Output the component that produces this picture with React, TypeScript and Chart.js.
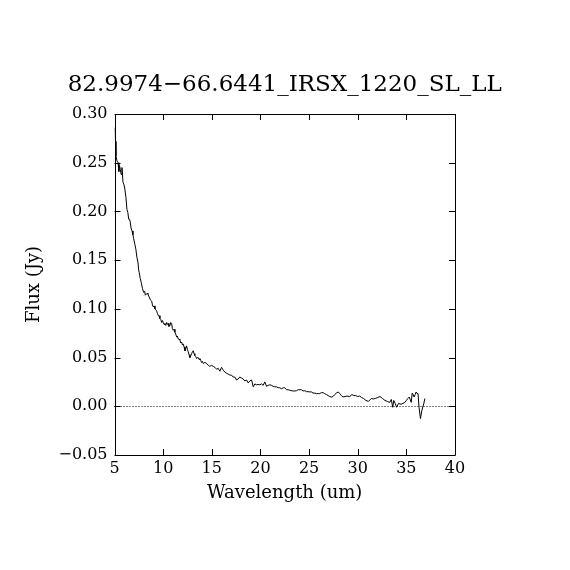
import React, { useEffect, useRef } from "react";
import { Chart, registerables } from "chart.js";

Chart.register(...registerables);

const TITLE = "82.9974\u221266.6441_IRSX_1220_SL_LL";
const X_LABEL = "Wavelength (um)";
const Y_LABEL = "Flux (Jy)";

const wavelength: number[] = [
  5.05, 5.1, 5.15, 5.25, 5.36, 5.45, 5.52, 5.6, 5.68, 5.77, 5.87, 5.96, 6.05, 6.18, 6.28, 6.37, 6.46, 6.55, 6.62, 6.7,
  6.8, 6.9, 6.97, 7.1, 7.2, 7.3, 7.41, 7.48, 7.55, 7.65, 7.75, 7.87, 8.0, 8.1, 8.17, 8.27, 8.35, 8.44, 8.57, 8.7,
  8.82, 8.9, 8.98, 9.08, 9.16, 9.25, 9.33, 9.42, 9.5, 9.58, 9.67, 9.76, 9.85, 9.93, 10.01, 10.1, 10.18, 10.27, 10.36, 10.44,
  10.52, 10.6, 10.7, 10.78, 10.87, 10.95, 11.04, 11.12, 11.21, 11.3, 11.39, 11.47, 11.55, 11.63, 11.72, 11.81, 11.9, 11.98, 12.06, 12.15,
  12.24, 12.32, 12.41, 12.5, 12.58, 12.66, 12.75, 12.84, 12.93, 13.01, 13.09, 13.18, 13.26, 13.35, 13.44, 13.52, 13.6, 13.7, 13.78, 13.87,
  13.95, 14.04, 14.12, 14.3, 14.47, 14.64, 14.8, 14.98, 15.15, 15.32, 15.5, 15.66, 15.83, 16.0, 16.18, 16.35, 16.5, 16.68, 16.86, 17.03,
  17.2, 17.37, 17.55, 17.71, 17.88, 18.06, 18.22, 18.4, 18.57, 18.74, 18.91, 19.09, 19.26, 19.43, 19.6, 19.76, 19.93, 20.11, 20.28, 20.45,
  20.63, 20.79, 20.96, 21.14, 21.3, 21.48, 21.65, 21.82, 21.99, 22.17, 22.34, 22.5, 22.68, 22.85, 23.02, 23.2, 23.36, 23.53, 23.71, 23.88,
  24.05, 24.22, 24.38, 24.56, 24.73, 24.9, 25.1, 25.25, 25.41, 25.6, 25.76, 25.93, 26.1, 26.27, 26.44, 26.6, 26.79, 26.96, 27.13, 27.3,
  27.46, 27.63, 27.81, 28.0, 28.15, 28.32, 28.49, 28.7, 28.9, 29.18, 29.4, 29.6, 29.8, 30.0, 30.2, 30.4, 30.6, 30.85, 31.1, 31.4,
  31.6, 31.8, 32.05, 32.3, 32.55, 32.8, 33.05, 33.3, 33.45, 33.6, 33.7, 33.85, 34.0, 34.2, 34.45, 34.65, 34.85, 35.0, 35.15, 35.3,
  35.5, 35.6, 35.7, 35.8, 35.9, 36.0, 36.1, 36.2, 36.3, 36.45, 36.6, 36.8, 36.9,
];

const flux: number[] = [
  0.286, 0.272, 0.257, 0.252, 0.25, 0.241, 0.247, 0.243, 0.238, 0.245, 0.23, 0.228, 0.224, 0.214, 0.202, 0.199, 0.192, 0.192, 0.189, 0.183,
  0.18, 0.176, 0.172, 0.166, 0.161, 0.153, 0.148, 0.14, 0.137, 0.131, 0.127, 0.121, 0.117, 0.118, 0.114, 0.115, 0.116, 0.115, 0.112, 0.109,
  0.108, 0.104, 0.102, 0.103, 0.1, 0.099, 0.098, 0.095, 0.093, 0.093, 0.09, 0.089, 0.086, 0.088, 0.086, 0.084, 0.085, 0.083, 0.086, 0.084,
  0.085, 0.082, 0.083, 0.086, 0.085, 0.08, 0.078, 0.079, 0.076, 0.074, 0.071, 0.072, 0.069, 0.069, 0.068, 0.065, 0.066, 0.063, 0.064, 0.061,
  0.057, 0.059, 0.062, 0.058, 0.056, 0.053, 0.05, 0.052, 0.054, 0.056, 0.057, 0.054, 0.052, 0.051, 0.049, 0.05, 0.05, 0.048, 0.049, 0.047,
  0.045, 0.046, 0.044, 0.045, 0.044, 0.042, 0.041, 0.042, 0.041, 0.04, 0.038, 0.039, 0.036, 0.04, 0.037, 0.035, 0.034, 0.033, 0.032, 0.032,
  0.03, 0.03, 0.027, 0.028, 0.03, 0.029, 0.028, 0.026, 0.027, 0.024, 0.026, 0.027, 0.02, 0.023, 0.022, 0.0225, 0.022, 0.023, 0.0215, 0.025,
  0.0205, 0.0215, 0.022, 0.0215, 0.0205, 0.02, 0.02, 0.019, 0.019, 0.018, 0.019, 0.019, 0.017, 0.017, 0.0164, 0.016, 0.0157, 0.0157, 0.016, 0.017,
  0.017, 0.017, 0.0157, 0.016, 0.015, 0.015, 0.0147, 0.0147, 0.0136, 0.0135, 0.013, 0.013, 0.013, 0.014, 0.014, 0.013, 0.012, 0.011, 0.01, 0.0095,
  0.01, 0.012, 0.0136, 0.0147, 0.013, 0.011, 0.0095, 0.01, 0.0105, 0.01, 0.012, 0.011, 0.011, 0.01, 0.0105, 0.009, 0.008, 0.006, 0.005, 0.008,
  0.0075, 0.008, 0.009, 0.01, 0.008, 0.006, 0.005, 0.004, 0.007, -0.001, 0.006, 0.003, -0.001, 0.003, 0.002, 0.003, 0.004, 0.006, 0.008, 0.0095,
  0.004, 0.0136, 0.012, 0.0095, 0.012, 0.0147, 0.013, 0.013, -0.001, -0.0126, -0.004, 0.003, 0.008,
];

const X_MIN = 5;
const X_MAX = 40;
const X_STEP = 5;
const Y_MIN = -0.05;
const Y_MAX = 0.3;
const Y_STEP = 0.05;

const SERIF = "'DejaVu Serif', 'Liberation Serif', serif";

const formatY = (v: number) => {
  const r = Math.round(v * 100) / 100;
  const s = Math.abs(r).toFixed(2);
  return r < 0 ? "\u2212" + s : s;
};

const framePlugin = {
  id: "frameTicks",
  afterDraw(chart: any) {
    const { ctx, chartArea, scales } = chart;
    const { left, right, top, bottom } = chartArea;
    const xs = scales.x;
    const ys = scales.y;
    ctx.save();
    const y0 = Math.round(ys.getPixelForValue(0)) + 0.5;
    ctx.strokeStyle = "#000";
    ctx.lineWidth = 1;
    ctx.setLineDash([1, 2]);
    ctx.beginPath();
    ctx.moveTo(left, y0);
    ctx.lineTo(right, y0);
    ctx.stroke();
    ctx.setLineDash([]);
    ctx.beginPath();
    ctx.rect(Math.round(left) + 0.5, Math.round(top) + 0.5, Math.round(right) - Math.round(left), Math.round(bottom) - Math.round(top));
    ctx.stroke();
    const tl = 6;
    ctx.beginPath();
    xs.ticks.forEach((t: any) => {
      const px = Math.round(xs.getPixelForValue(t.value)) + 0.5;
      ctx.moveTo(px, bottom);
      ctx.lineTo(px, bottom - tl);
      ctx.moveTo(px, top);
      ctx.lineTo(px, top + tl);
    });
    ys.ticks.forEach((t: any) => {
      const py = Math.round(ys.getPixelForValue(t.value)) + 0.5;
      ctx.moveTo(left, py);
      ctx.lineTo(left + tl, py);
      ctx.moveTo(right, py);
      ctx.lineTo(right - tl, py);
    });
    ctx.stroke();
    ctx.fillStyle = "#000";
    ctx.font = `23px ${SERIF}`;
    ctx.textAlign = "center";
    ctx.textBaseline = "middle";
    ctx.fillText(TITLE, (left + right) / 2, 77);
    ctx.restore();
  },
};

export default function App() {
  const ref = useRef<HTMLCanvasElement | null>(null);

  useEffect(() => {
    if (!ref.current) return;
    const points = wavelength.map((w, i) => ({ x: w, y: flux[i] }));
    const chart = new Chart(ref.current, {
      type: "scatter",
      data: {
        datasets: [
          {
            data: points,
            showLine: true,
            borderColor: "#000",
            borderWidth: 1,
            pointRadius: 0,
            tension: 0,
            fill: false,
          },
        ],
      },
      options: {
        animation: false,
        responsive: true,
        maintainAspectRatio: false,
        devicePixelRatio: 1,
        layout: { padding: { left: 0, right: 107, top: 106, bottom: 0 } },
        plugins: {
          legend: { display: false },
          tooltip: { enabled: false },
          title: { display: false },
        },
        scales: {
          x: {
            type: "linear",
            min: X_MIN,
            max: X_MAX,
            grid: { display: false, drawTicks: false },
            border: { display: false },
            ticks: {
              stepSize: X_STEP,
              color: "#000",
              padding: 4,
              maxRotation: 0,
              font: { family: SERIF, size: 16 },
              callback: (v: any) => String(Math.round(Number(v))),
            },
            title: {
              display: true,
              text: X_LABEL,
              color: "#000",
              font: { family: SERIF, size: 18 },
              padding: { top: 0, bottom: 58 },
            },
            afterFit: (s: any) => {
              s.height = 107;
            },
          },
          y: {
            type: "linear",
            min: Y_MIN,
            max: Y_MAX,
            grid: { display: false, drawTicks: false },
            border: { display: false },
            ticks: {
              stepSize: Y_STEP,
              color: "#000",
              padding: 7,
              font: { family: SERIF, size: 16 },
              callback: (v: any) => formatY(Number(v)),
            },
            title: {
              display: true,
              text: Y_LABEL,
              color: "#000",
              font: { family: SERIF, size: 18 },
              padding: { top: 16, bottom: 0 },
            },
            afterFit: (s: any) => {
              s.width = 106.5;
            },
          },
        },
      },
      plugins: [framePlugin],
    });
    return () => chart.destroy();
  }, []);

  return (
    <div style={{ width: 554, height: 554, position: "relative" }}>
      <canvas ref={ref} />
    </div>
  );
}
